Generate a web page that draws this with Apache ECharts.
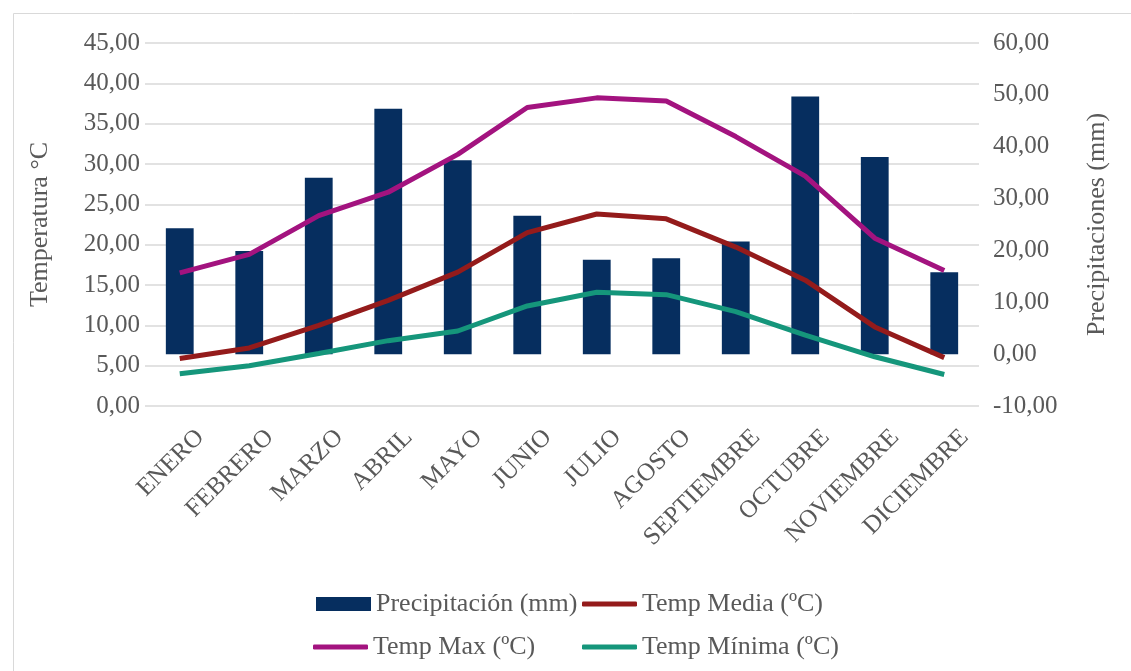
<!DOCTYPE html>
<html><head><meta charset="utf-8">
<script src="https://cdn.jsdelivr.net/npm/echarts@6/dist/echarts.min.js"></script>
<style>html,body{margin:0;padding:0;background:#fff}#c{width:1131px;height:671px}</style>
</head><body><div id="c"></div>
<script>
const categories = ['ENERO','FEBRERO','MARZO','ABRIL','MAYO','JUNIO','JULIO','AGOSTO','SEPTIEMBRE','OCTUBRE','NOVIEMBRE','DICIEMBRE'];
const precipitacion = [24.3, 19.9, 34.0, 47.3, 37.4, 26.7, 18.2, 18.5, 21.7, 49.7, 38.0, 15.8];
const tempMedia = [5.9, 7.2, 10.0, 13.1, 16.6, 21.5, 23.8, 23.2, 19.7, 15.6, 9.8, 6.0];
const tempMax = [16.5, 18.8, 23.6, 26.5, 31.2, 37.0, 38.2, 37.8, 33.4, 28.5, 20.8, 16.8];
const tempMin = [4.0, 5.0, 6.5, 8.1, 9.3, 12.4, 14.1, 13.8, 11.7, 8.8, 6.1, 3.9];

const font = 'Liberation Serif';
const grey = '#595959';
const fmt = v => v.toFixed(2).replace('.', ',');
const legendText = {fontFamily: font, fontSize: 26, color: grey};
const barLegend = {itemWidth: 55, itemHeight: 14, icon: 'rect', textStyle: legendText};
const lineLegend = {itemWidth: 55, itemHeight: 5, icon: 'roundRect', textStyle: legendText};

const chart = echarts.init(document.getElementById('c'));
chart.setOption({
  animation: false,
  textStyle: {fontFamily: font},
  graphic: [{type: 'rect', shape: {x: 13.5, y: 13.5, width: 1130, height: 670},
    style: {fill: 'none', stroke: '#d9d9d9', lineWidth: 1}}],
  grid: {left: 145, right: 152, top: 43, bottom: 265},
  legend: [
    Object.assign({data: ['Precipitación (mm)'], left: 311, top: 586}, barLegend),
    Object.assign({data: ['Temp Media (ºC)'], left: 577, top: 586}, lineLegend),
    Object.assign({data: ['Temp Max (ºC)'], left: 308, top: 629}, lineLegend),
    Object.assign({data: ['Temp Mínima (ºC)'], left: 577, top: 629}, lineLegend)
  ],
  xAxis: {type: 'category', data: categories,
    axisLine: {show: false}, axisTick: {show: false},
    axisLabel: {rotate: 45, interval: 0, fontFamily: font, fontSize: 25, color: grey, margin: 7,
      align: 'right', verticalAlign: 'top', lineHeight: 58}},
  yAxis: [
    {type: 'value', min: 0, max: 45, interval: 5, name: 'Temperatura °C',
     nameLocation: 'middle', nameGap: 92, nameRotate: 90,
     nameTextStyle: {fontFamily: font, fontSize: 26, color: grey},
     axisLabel: {formatter: fmt, fontFamily: font, fontSize: 25, color: grey, margin: 5},
     splitLine: {lineStyle: {color: '#d9d9d9', width: 1.5}},
     axisLine: {show: false}, axisTick: {show: false}},
    {type: 'value', min: -10, max: 60, interval: 10, name: 'Precipitaciones (mm)',
     nameLocation: 'middle', nameGap: 105, nameRotate: 90,
     nameTextStyle: {fontFamily: font, fontSize: 26, color: grey},
     axisLabel: {formatter: fmt, fontFamily: font, fontSize: 25, color: grey, margin: 14},
     splitLine: {show: false}, axisLine: {show: false}, axisTick: {show: false}}
  ],
  series: [
    {name: 'Precipitación (mm)', type: 'bar', yAxisIndex: 1, data: precipitacion,
     barWidth: '40%', itemStyle: {color: '#062e5f'}},
    {name: 'Temp Media (ºC)', type: 'line', yAxisIndex: 0, data: tempMedia,
     showSymbol: false, symbol: 'none', lineStyle: {color: '#941b1b', width: 5}, itemStyle: {color: '#941b1b'}},
    {name: 'Temp Max (ºC)', type: 'line', yAxisIndex: 0, data: tempMax,
     showSymbol: false, symbol: 'none', lineStyle: {color: '#a3137f', width: 5}, itemStyle: {color: '#a3137f'}},
    {name: 'Temp Mínima (ºC)', type: 'line', yAxisIndex: 0, data: tempMin,
     showSymbol: false, symbol: 'none', lineStyle: {color: '#15967b', width: 5}, itemStyle: {color: '#15967b'}}
  ]
});
</script></body></html>
